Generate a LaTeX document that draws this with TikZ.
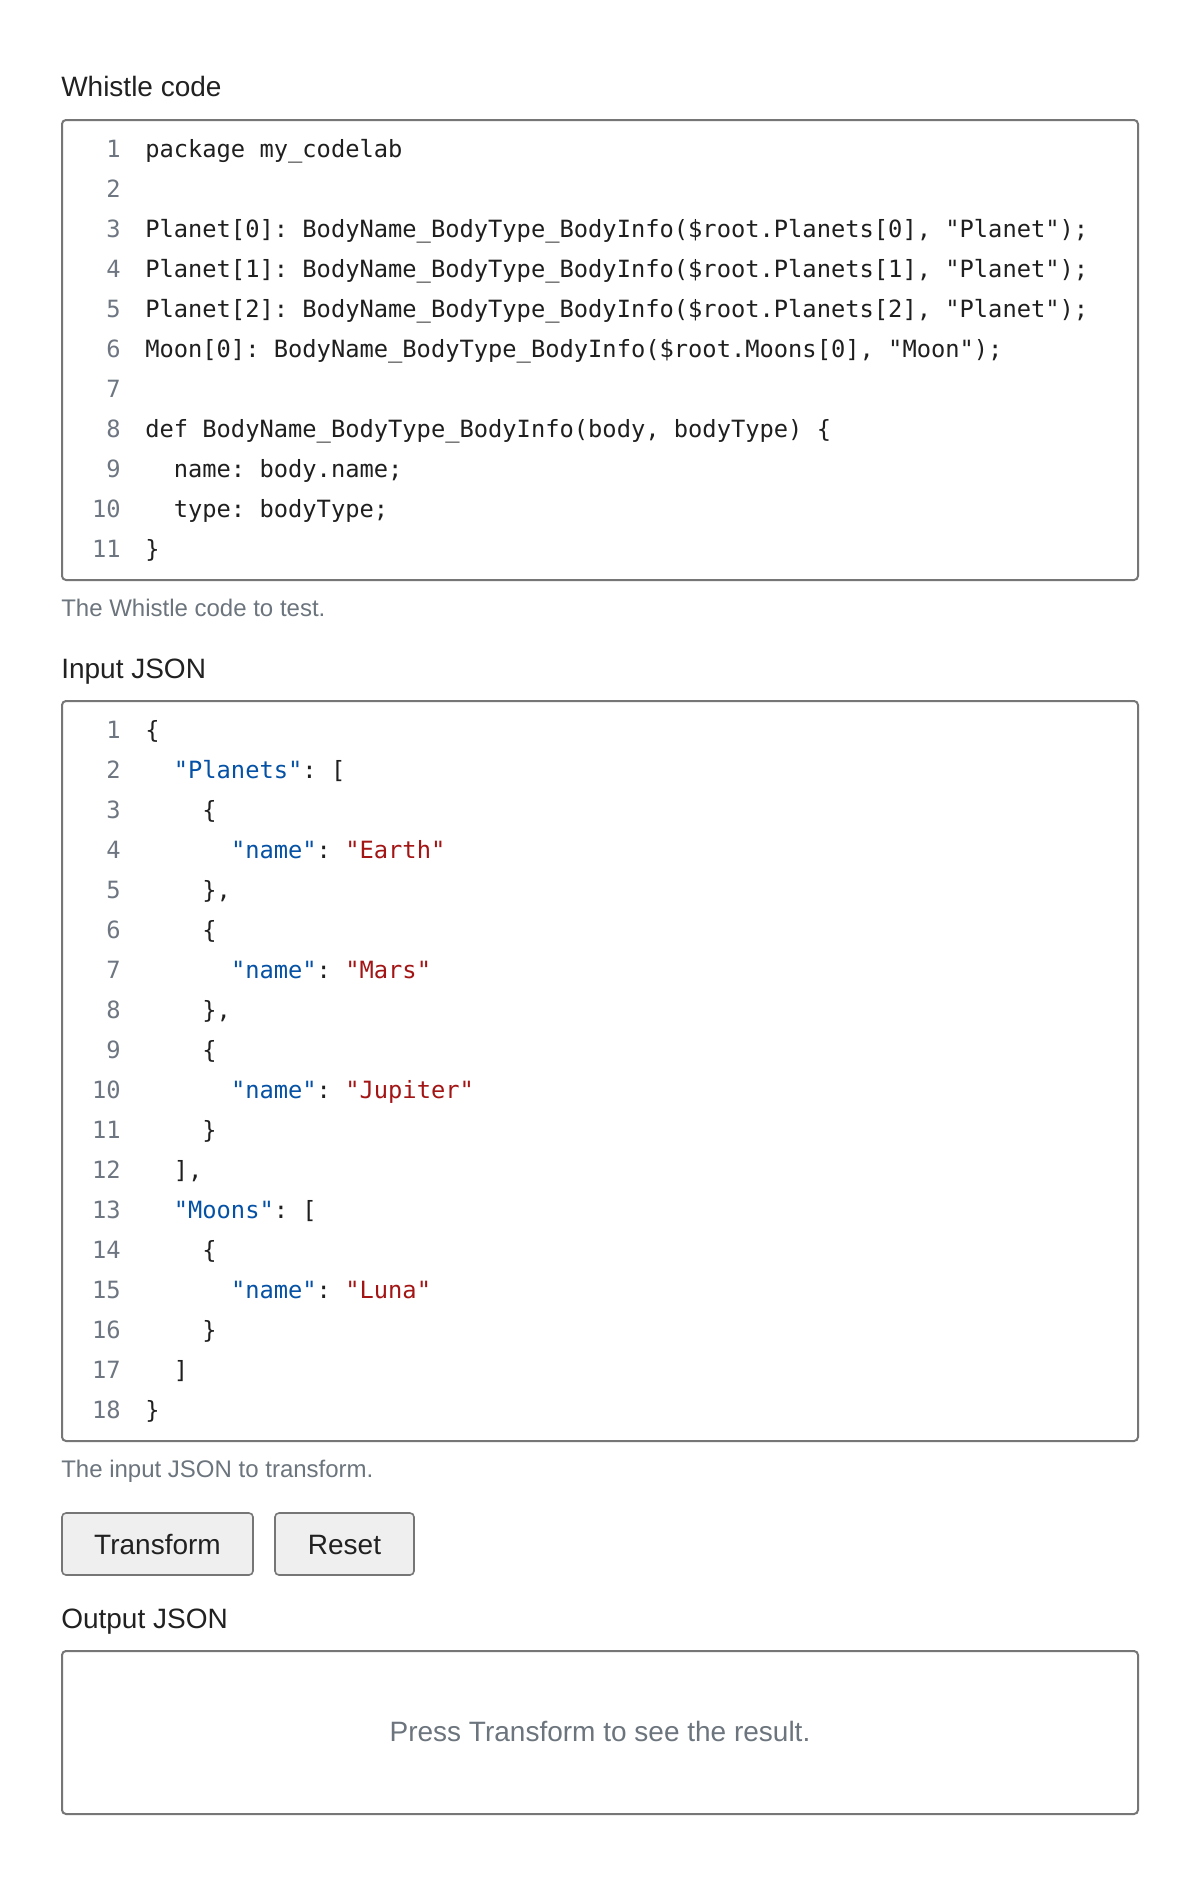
\documentclass[tikz,border=0pt]{standalone}
\usepackage{fontspec}
\setmainfont{Liberation Sans}
\newfontfamily\codefont{DejaVu Sans Mono}
\definecolor{codeblack}{HTML}{1F1F1F}
\definecolor{lngray}{HTML}{6E7681}
\definecolor{keyblue}{HTML}{0451A5}
\definecolor{strred}{HTML}{A31515}
\definecolor{capgray}{HTML}{6C757D}
\definecolor{titleblack}{HTML}{212121}
\definecolor{bordergray}{HTML}{767676}
\definecolor{btnfill}{HTML}{EFEFEF}
\newcommand\dq{\char34\relax}
\newcommand\K[1]{\textcolor{keyblue}{\dq#1\dq}}
\newcommand\Sv[1]{\textcolor{strred}{\dq#1\dq}}
\frenchspacing
\tikzset{
  codetext/.style={font=\codefont\fontsize{17.8}{20}\selectfont, anchor=base west, inner sep=0pt, text=codeblack},
  lnum/.style={font=\codefont\fontsize{17.8}{20}\selectfont, anchor=base east, inner sep=0pt, text=lngray},
  heading/.style={font=\fontsize{21}{24}\selectfont, anchor=base west, inner sep=0pt, text=titleblack},
  caption/.style={font=\fontsize{18}{21}\selectfont, anchor=base west, inner sep=0pt, text=capgray},
  panel/.style={draw=bordergray, line width=1.5pt, rounded corners=3pt, fill=white},
  btnbox/.style={draw=bordergray, line width=1.2pt, rounded corners=3pt, fill=btnfill},
  btntext/.style={font=\fontsize{21}{24}\selectfont, anchor=base, inner sep=0pt, text=titleblack},
  hint/.style={font=\fontsize{21}{24}\selectfont, anchor=base, inner sep=0pt, text=capgray}
}
\begin{document}
\begin{tikzpicture}[x=0.75pt,y=-0.75pt]
\useasboundingbox[fill=white] (0,0) rectangle (1200,1884);
\def\cw{14.29}
% Whistle code
\node[heading] (t1) at (61,97) {Whistle code};
\draw[panel] (62,120) rectangle (1138,580);
\foreach \i in {1,...,11}{
  \node[lnum] (wl\i) at (121,{157+40*(\i-1)}) {\i};
}
\node[codetext] (w1) at (145,157) {package my\_codelab};
\node[codetext] (w3) at (145,237) {Planet[0]: BodyName\_BodyType\_BodyInfo(\$root.Planets[0], \dq Planet\dq);};
\node[codetext] (w4) at (145,277) {Planet[1]: BodyName\_BodyType\_BodyInfo(\$root.Planets[1], \dq Planet\dq);};
\node[codetext] (w5) at (145,317) {Planet[2]: BodyName\_BodyType\_BodyInfo(\$root.Planets[2], \dq Planet\dq);};
\node[codetext] (w6) at (145,357) {Moon[0]: BodyName\_BodyType\_BodyInfo(\$root.Moons[0], \dq Moon\dq);};
\node[codetext] (w8) at (145,437) {def BodyName\_BodyType\_BodyInfo(body, bodyType) \{};
\node[codetext] (w9) at ({145+2*\cw},477) {name: body.name;};
\node[codetext] (w10) at ({145+2*\cw},517) {type: bodyType;};
\node[codetext] (w11) at (145,557) {\}};
\node[caption] (c1) at (61,616) {The Whistle code to test.};
% Input JSON
\node[heading] (t2) at (61,678) {Input JSON};
\draw[panel] (62,701) rectangle (1138,1441);
\foreach \i in {1,...,18}{
  \node[lnum] (jl\i) at (121,{738+40*(\i-1)}) {\i};
}
\node[codetext] (j1) at (145,738) {\{};
\node[codetext] (j2) at ({145+2*\cw},778) {\K{Planets}: [};
\node[codetext] (j3) at ({145+4*\cw},818) {\{};
\node[codetext] (j4) at ({145+6*\cw},858) {\K{name}: \Sv{Earth}};
\node[codetext] (j5) at ({145+4*\cw},898) {\},};
\node[codetext] (j6) at ({145+4*\cw},938) {\{};
\node[codetext] (j7) at ({145+6*\cw},978) {\K{name}: \Sv{Mars}};
\node[codetext] (j8) at ({145+4*\cw},1018) {\},};
\node[codetext] (j9) at ({145+4*\cw},1058) {\{};
\node[codetext] (j10) at ({145+6*\cw},1098) {\K{name}: \Sv{Jupiter}};
\node[codetext] (j11) at ({145+4*\cw},1138) {\}};
\node[codetext] (j12) at ({145+2*\cw},1178) {],};
\node[codetext] (j13) at ({145+2*\cw},1218) {\K{Moons}: [};
\node[codetext] (j14) at ({145+4*\cw},1258) {\{};
\node[codetext] (j15) at ({145+6*\cw},1298) {\K{name}: \Sv{Luna}};
\node[codetext] (j16) at ({145+4*\cw},1338) {\}};
\node[codetext] (j17) at ({145+2*\cw},1378) {]};
\node[codetext] (j18) at (145,1418) {\}};
\node[caption] (c2) at (61,1477) {The input JSON to transform.};
% Buttons
\draw[btnbox] (62,1513) rectangle (253,1575);
\node[btntext] (bt) at (157.5,1554) {Transform};
\draw[btnbox] (275,1513) rectangle (414,1575);
\node[btntext] (br) at (344.5,1554) {Reset};
% Output JSON
\node[heading] (t3) at (61,1628) {Output JSON};
\draw[panel] (62,1651) rectangle (1138,1814);
\node[hint] (ph) at (600,1741) {Press Transform to see the result.};
\end{tikzpicture}
\end{document}
